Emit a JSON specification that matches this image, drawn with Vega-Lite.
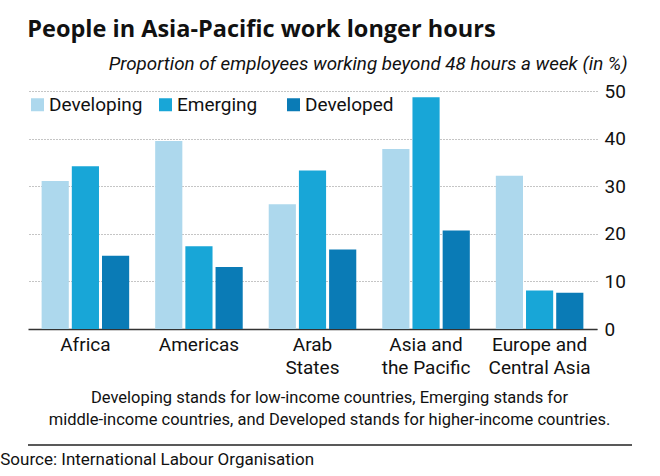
{
  "$schema": "https://vega.github.io/schema/vega-lite/v6.json",
  "background": "white",
  "padding": {"left": 0, "top": 17, "right": 0, "bottom": 0},
  "title": {
    "text": "People in Asia-Pacific work longer hours",
    "anchor": "start",
    "dx": 27,
    "font": "Open Sans",
    "fontSize": 23.5,
    "fontWeight": "bold",
    "color": "#111111",
    "offset": 13
  },
  "spacing": 16,
  "config": {"view": {"stroke": null}},
  "vconcat": [
    {
      "width": 569,
      "height": 238,
      "data": {
        "values": [
          {"region": "Africa", "group": "Developing", "value": 31.1},
          {"region": "Africa", "group": "Emerging", "value": 34.2},
          {"region": "Africa", "group": "Developed", "value": 15.4},
          {"region": "Americas", "group": "Developing", "value": 39.5},
          {"region": "Americas", "group": "Emerging", "value": 17.4},
          {"region": "Americas", "group": "Developed", "value": 13.0},
          {"region": "Arab States", "group": "Developing", "value": 26.2},
          {"region": "Arab States", "group": "Emerging", "value": 33.3},
          {"region": "Arab States", "group": "Developed", "value": 16.7},
          {"region": "Asia and the Pacific", "group": "Developing", "value": 37.8},
          {"region": "Asia and the Pacific", "group": "Emerging", "value": 48.7},
          {"region": "Asia and the Pacific", "group": "Developed", "value": 20.7},
          {"region": "Europe and Central Asia", "group": "Developing", "value": 32.2},
          {"region": "Europe and Central Asia", "group": "Emerging", "value": 8.1},
          {"region": "Europe and Central Asia", "group": "Developed", "value": 7.6}
        ]
      },
      "mark": {"type": "bar"},
      "encoding": {
        "x": {
          "field": "region",
          "type": "nominal",
          "sort": ["Africa", "Americas", "Arab States", "Asia and the Pacific", "Europe and Central Asia"],
          "scale": {"paddingInner": 0.229, "paddingOuter": 0.12},
          "axis": {
            "labelAngle": 0,
            "labelExpr": "datum.value == 'Arab States' ? ['Arab', 'States'] : datum.value == 'Asia and the Pacific' ? ['Asia and', 'the Pacific'] : datum.value == 'Europe and Central Asia' ? ['Europe and', 'Central Asia'] : datum.value",
            "labelFont": "Roboto",
            "labelFontSize": 19,
            "labelColor": "#111111",
            "labelLineHeight": 23,
            "labelPadding": 6,
            "ticks": false,
            "domainColor": "#333333",
            "domainWidth": 1.5,
            "title": ["Developing stands for low-income countries, Emerging stands for", "middle-income countries, and Developed stands for higher-income countries."],
            "titleFont": "Roboto",
            "titleFontSize": 16.5,
            "titleFontWeight": "normal",
            "titleColor": "#111111",
            "titleLineHeight": 22,
            "titleX": 301,
            "titleAlign": "center",
            "titleBaseline": "top",
            "titlePadding": 12
          }
        },
        "xOffset": {
          "field": "group",
          "type": "nominal",
          "sort": ["Developing", "Emerging", "Developed"],
          "scale": {"paddingInner": 0.1, "paddingOuter": 0}
        },
        "y": {
          "field": "value",
          "type": "quantitative",
          "scale": {"domain": [0, 50]},
          "axis": {
            "orient": "right",
            "values": [0, 10, 20, 30, 40, 50],
            "grid": true,
            "gridDash": [1, 2],
            "gridColor": "#8a8a8a",
            "gridWidth": 1,
            "domain": false,
            "ticks": false,
            "labelPadding": 7,
            "labelFont": "Roboto",
            "labelFontSize": 19,
            "labelColor": "#111111",
            "title": "Proportion of employees working beyond 48 hours a week (in %)",
            "titleAngle": 0,
            "titleAlign": "right",
            "titleBaseline": "middle",
            "titleX": 30,
            "titleY": -28,
            "titleFont": "Roboto",
            "titleFontStyle": "italic",
            "titleFontWeight": "normal",
            "titleFontSize": 18.8,
            "titleColor": "#111111"
          }
        },
        "color": {
          "field": "group",
          "type": "nominal",
          "scale": {"domain": ["Developing", "Emerging", "Developed"], "range": ["#add8ed", "#18a6d7", "#0a7bb6"]},
          "legend": {
            "orient": "none",
            "legendX": 0,
            "legendY": 4,
            "direction": "horizontal",
            "title": null,
            "symbolType": "square",
            "symbolSize": 169,
            "symbolStrokeWidth": 0,
            "symbolOpacity": 1,
            "labelFont": "Roboto",
            "labelFontSize": 19,
            "labelColor": "#111111",
            "labelOffset": 2,
            "columnPadding": 13,
            "gridAlign": "all"
          }
        }
      }
    },
    {
      "width": 632,
      "height": 1,
      "data": {"values": [{"line": "separator"}]},
      "mark": {"type": "rule", "color": "#222222", "strokeWidth": 1.5, "xOffset": -28},
      "encoding": {"y": {"datum": 0, "type": "quantitative", "axis": null}},
      "title": {
        "text": "Source: International Labour Organisation",
        "orient": "bottom",
        "anchor": "start",
        "dx": -27,
        "font": "Roboto",
        "fontSize": 17,
        "fontWeight": "normal",
        "color": "#111111",
        "offset": 6
      }
    }
  ]
}
